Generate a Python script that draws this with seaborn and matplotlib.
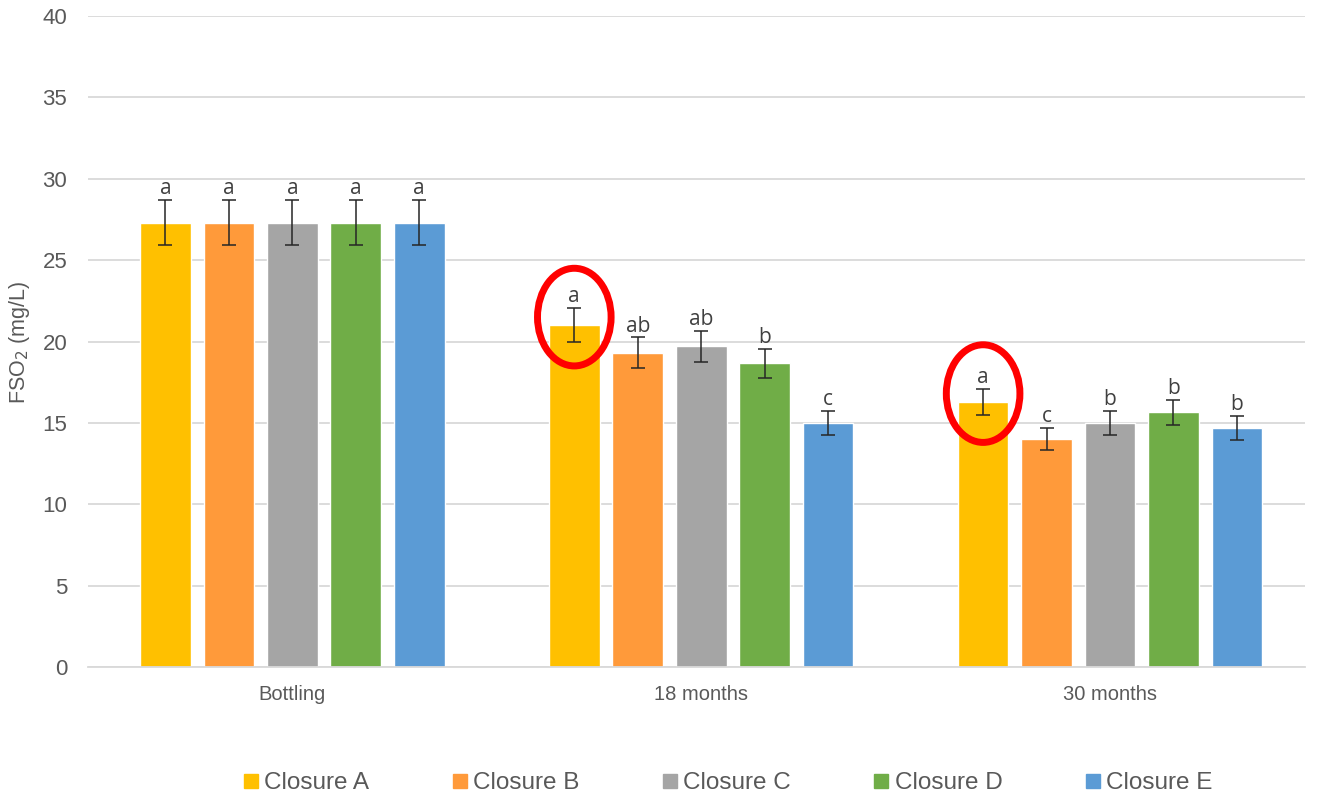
import numpy as np
import pandas as pd
import matplotlib
matplotlib.use("Agg")
import matplotlib.pyplot as plt
import seaborn as sns
from matplotlib.patches import Ellipse
from matplotlib.lines import Line2D

# ---- data ----
times = ["Bottling", "18 months", "30 months"]
closures = ["Closure A", "Closure B", "Closure C", "Closure D", "Closure E"]
means = {
    "Closure A": [27.3, 21.0, 16.3],
    "Closure B": [27.3, 19.3, 14.0],
    "Closure C": [27.3, 19.7, 15.0],
    "Closure D": [27.3, 18.65, 15.65],
    "Closure E": [27.3, 15.0, 14.7],
}
errs = {
    "Closure A": [1.4, 1.05, 0.8],
    "Closure B": [1.4, 0.95, 0.68],
    "Closure C": [1.4, 0.97, 0.75],
    "Closure D": [1.4, 0.92, 0.78],
    "Closure E": [1.4, 0.72, 0.73],
}
letters = {
    "Closure A": ["a", "a", "a"],
    "Closure B": ["a", "ab", "c"],
    "Closure C": ["a", "ab", "b"],
    "Closure D": ["a", "b", "b"],
    "Closure E": ["a", "c", "b"],
}
highlights = [("Closure A", "18 months"), ("Closure A", "30 months")]
colors = ["#FFC000", "#FF9A3A", "#A5A5A5", "#70AD47", "#5B9BD5"]

rows = []
for c in closures:
    for i, t in enumerate(times):
        rows.append({"time": t, "closure": c, "value": means[c][i]})
df = pd.DataFrame(rows)

sns.set_theme(style="white")
plt.rcParams["font.family"] = ["Liberation Sans", "DejaVu Sans"]

fig = plt.figure(figsize=(13.17, 7.97), dpi=100)
ax = fig.add_axes([0.0668, 0.1631, 0.9241, 0.8168])

sns.barplot(data=df, x="time", y="value", hue="closure", order=times,
            hue_order=closures, palette=colors, width=0.776, gap=0.2,
            errorbar=None, ax=ax, saturation=1, legend=False)

ax.set_xlim(-0.5, 2.477)
ax.set_ylim(0, 40)
ax.set_yticks(np.arange(0, 41, 5))
ax.yaxis.grid(True, color="#D9D9D9", linewidth=1.3)
ax.set_axisbelow(True)
for s in ["top", "right", "left"]:
    ax.spines[s].set_visible(False)
ax.spines["bottom"].set_color("#D9D9D9")
ax.spines["bottom"].set_linewidth(1.3)
ax.tick_params(axis="y", length=0, labelsize=16, labelcolor="#595959", pad=15)
ax.tick_params(axis="x", length=0, labelsize=14.5, labelcolor="#595959", pad=13)
ax.set_xlabel("")
ax.set_ylabel("")
fig.text(20 / 1317, 1 - 342 / 797, "FSO$_2$ (mg/L)", rotation=90,
         ha="center", va="center", fontsize=15.5, color="#595959")

for ci, (c, cont) in enumerate(zip(closures, ax.containers)):
    for ti, patch in enumerate(cont.patches):
        xc = patch.get_x() + patch.get_width() / 2
        h = patch.get_height()
        e = errs[c][ti]
        ax.errorbar(xc, h, yerr=e, fmt="none", ecolor="#262626",
                    elinewidth=1.1, capsize=5, capthick=1.1, zorder=5)
        ax.text(xc, h + e + 0.05, letters[c][ti], ha="center", va="bottom",
                fontsize=15, color="#404040", family=["Open Sans", "DejaVu Sans"],
                zorder=6)
        if (c, times[ti]) in highlights:
            ell = Ellipse((xc, h + 0.5), width=patch.get_width() * 1.45,
                          height=6.0, fill=False, edgecolor="#FF0000",
                          linewidth=5, zorder=7)
            ax.add_patch(ell)

handles = [Line2D([0], [0], marker="s", linestyle="none", markersize=9.5,
                  markerfacecolor=col, markeredgecolor=col) for col in colors]
fig.legend(handles, closures, loc="center", bbox_to_anchor=(728 / 1317, 0.017),
           ncol=5, frameon=False, fontsize=17.5, handlelength=0.6,
           handletextpad=0.25, columnspacing=3.42, labelcolor="#595959",
           borderpad=0, borderaxespad=0)

fig.savefig("out.png", dpi=100)
